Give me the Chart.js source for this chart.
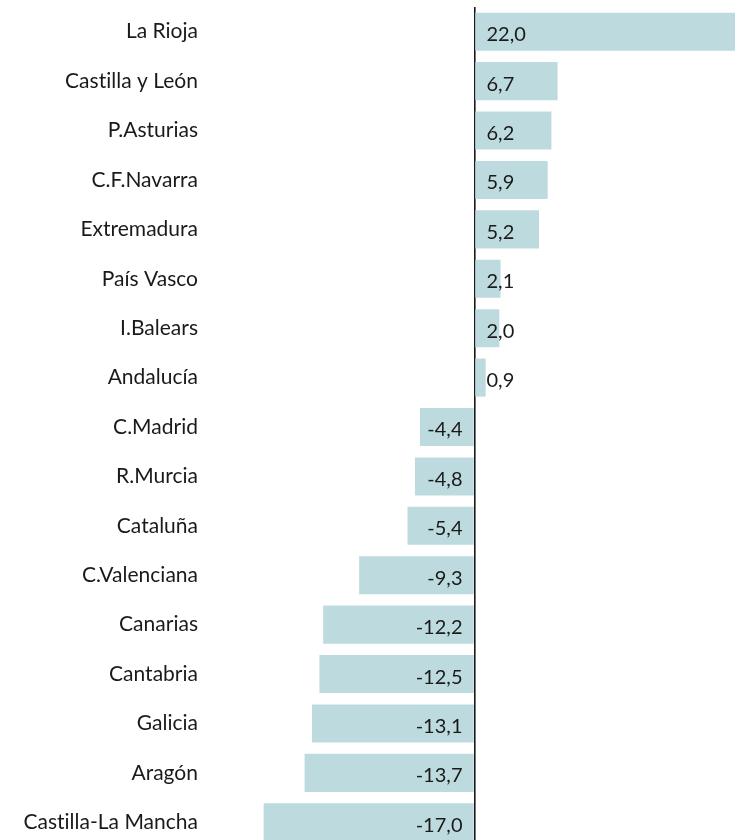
<!DOCTYPE html>
<html>
<head>
<meta charset="utf-8">
<script src="https://cdn.jsdelivr.net/npm/chart.js@4/dist/chart.umd.min.js"></script>
<style>
  html, body { margin: 0; padding: 0; overflow: hidden; background: #fff; }
</style>
</head>
<body>
<canvas id="chart-bars" width="735" height="847"></canvas>
<script>
var regiones = [
  'La Rioja', 'Castilla y León', 'P.Asturias', 'C.F.Navarra', 'Extremadura',
  'País Vasco', 'I.Balears', 'Andalucía', 'C.Madrid', 'R.Murcia', 'Cataluña',
  'C.Valenciana', 'Canarias', 'Cantabria', 'Galicia', 'Aragón', 'Castilla-La Mancha'
]
var variacion = [22.0, 6.7, 6.2, 5.9, 5.2, 2.1, 2.0, 0.9, -4.4, -4.8, -5.4, -9.3, -12.2, -12.5, -13.1, -13.7, -17.0]

var FONT = 'Lato'

// tiny letter spacing keeps the canvas from using the "ti" ligature
var noLigatures = {
  id: 'noLigatures',
  beforeDraw: function (chart) {
    chart.ctx.letterSpacing = '0.01px'
  }
}

// value labels sit next to the zero line, inside each bar
var barLabels = {
  id: 'barLabels',
  afterDatasetsDraw: function (chart) {
    var ctx = chart.ctx
    var meta = chart.getDatasetMeta(0)
    var x0 = chart.scales.x.getPixelForValue(0)
    ctx.save()
    ctx.font = '20px ' + FONT
    ctx.fillStyle = '#1a1a1a'
    ctx.textBaseline = 'middle'
    meta.data.forEach(function (bar, i) {
      var v = variacion[i]
      var txt = v.toFixed(1).replace('.', ',')
      if (v >= 0) {
        ctx.textAlign = 'left'
        ctx.fillText(txt, x0 + 12, bar.y + 3)
      } else {
        ctx.textAlign = 'right'
        ctx.fillText(txt, x0 - 12, bar.y + 3)
      }
    })
    ctx.restore()
  }
}

var ctx = document.getElementById('chart-bars').getContext('2d')

var ChartRegiones = new Chart(ctx, {
  type: 'bar',
  data: {
    labels: regiones,
    datasets: [
      {
        data: variacion,
        backgroundColor: '#bddbde',
        borderWidth: 0,
        barPercentage: 0.77,
        categoryPercentage: 1,
      },
    ],
  },
  options: {
    indexAxis: 'y',
    responsive: false,
    animation: false,
    layout: { padding: { top: 7, right: 0, bottom: 0, left: 0 } },
    plugins: {
      legend: { display: false },
      tooltip: { enabled: false },
    },
    scales: {
      x: {
        min: -21,
        max: 21,
        ticks: { display: false, stepSize: 21 },
        border: { display: false },
        grid: {
          drawTicks: false,
          lineWidth: 1.6,
          color: function (c) {
            return c.tick && c.tick.value === 0 ? '#1a1a1a' : 'rgba(0,0,0,0)'
          },
        },
        afterFit: function (scale) {
          scale.height = 0
          scale.paddingLeft = 0
          scale.paddingRight = 0
        },
      },
      y: {
        border: { display: false },
        grid: { display: false, drawTicks: false },
        ticks: {
          padding: 16,
          color: '#1a1a1a',
          font: { size: 21, family: FONT },
        },
        afterFit: function (scale) {
          scale.width = 214
          scale.paddingTop = 0
          scale.paddingBottom = 0
        },
      },
    },
  },
  plugins: [noLigatures, barLabels],
})
</script>
</body>
</html>
